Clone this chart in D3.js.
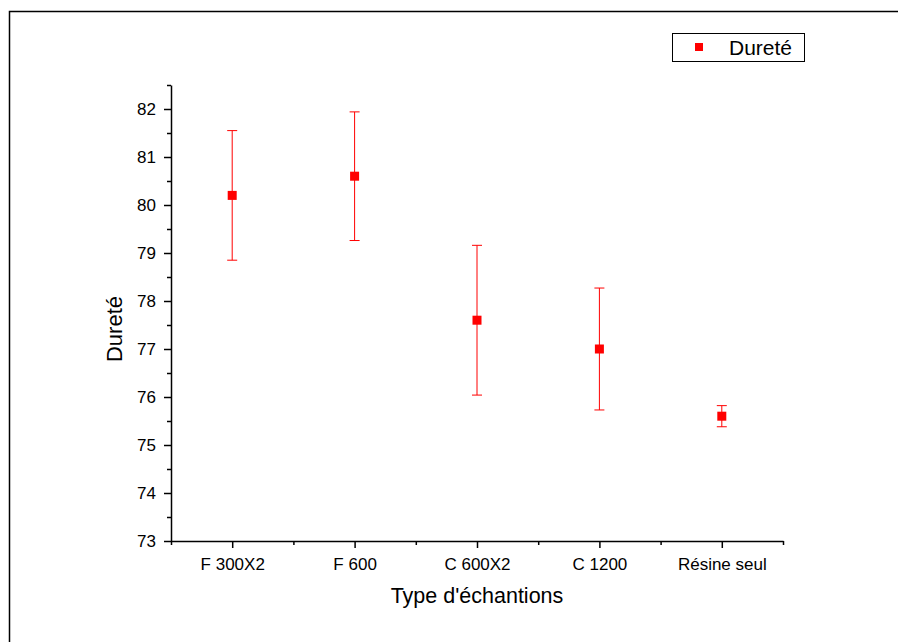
<!DOCTYPE html>
<html>
<head>
<meta charset="utf-8">
<script src="https://cdn.jsdelivr.net/npm/d3@7"></script>
<style>
  body { margin: 0; background: #fff; }
  text { font-family: "Liberation Sans", Arial, sans-serif; }
</style>
</head>
<body>
<div id="chart"></div>
<script>
// sample types and hardness values (mean +/- error)
var categories = ["F 300X2", "F 600", "C 600X2", "C 1200", "Résine seul"];
var durete = [80.2, 80.6, 77.6, 77.0, 75.6];
var erreurs = [1.35, 1.34, 1.56, 1.27, 0.22];
var yTicks = [73, 74, 75, 76, 77, 78, 79, 80, 81, 82];

var width = 898, height = 642;
var margin = {left: 171, right: 115, top: 85, bottom: 101};

var svg = d3.select("#chart").append("svg")
    .attr("width", width)
    .attr("height", height);

// outer frame (cut at right and bottom like the original)
svg.append("rect")
    .attr("x", 9.5).attr("y", 11.5)
    .attr("width", 1000).attr("height", 1000)
    .attr("fill", "none")
    .attr("stroke", "#000")
    .attr("stroke-width", 1.5);

var x = d3.scaleLinear()
    .domain([0.5, categories.length + 0.5])
    .range([margin.left, width - margin.right]);

var y = d3.scaleLinear()
    .domain([73, 82.5])
    .range([height - margin.bottom, margin.top]);

// x axis: major ticks on categories, minor ticks between
var xMinor = d3.range(0.5, categories.length + 1, 1);
svg.append("g")
    .attr("transform", "translate(0," + y(73) + ")")
    .call(d3.axisBottom(x).tickValues(xMinor).tickSize(4).tickFormat(""))
    .call(g => g.select(".domain").remove());
var xAxis = svg.append("g")
    .attr("transform", "translate(0," + y(73) + ")")
    .call(d3.axisBottom(x)
        .tickValues(d3.range(1, categories.length + 1))
        .tickSize(7).tickSizeOuter(0)
        .tickFormat(function(d) { return categories[d - 1]; }));
xAxis.selectAll("text").attr("font-size", 17).attr("y", 29).attr("dy", 0)
    .attr("fill", "#000");

// y axis: major + minor ticks
var yMinor = d3.range(73.5, 82.6, 1);
svg.append("g")
    .attr("transform", "translate(" + x(0.5) + ",0)")
    .call(d3.axisLeft(y).tickValues(yMinor).tickSize(4).tickFormat(""))
    .call(g => g.select(".domain").remove());
var yAxis = svg.append("g")
    .attr("transform", "translate(" + x(0.5) + ",0)")
    .call(d3.axisLeft(y).tickValues(yTicks).tickSize(7).tickSizeOuter(0)
        .tickFormat(d3.format("d")));
yAxis.selectAll("text").attr("font-size", 17).attr("x", -15)
    .attr("fill", "#000");

svg.selectAll(".domain").attr("stroke-width", 1.5);
svg.selectAll(".tick line").attr("stroke-width", 1.5);

// axis titles
svg.append("text")
    .attr("x", x(3)).attr("y", 603)
    .attr("text-anchor", "middle")
    .attr("font-size", 21.5)
    .text("Type d'échantions");

svg.append("text")
    .attr("transform", "translate(122,329) rotate(-90)")
    .attr("text-anchor", "middle")
    .attr("font-size", 22)
    .text("Dureté");

// error bars
var pts = svg.append("g").selectAll("g")
    .data(durete)
    .enter().append("g");

pts.append("line")
    .attr("x1", (d, i) => x(i + 1)).attr("x2", (d, i) => x(i + 1))
    .attr("y1", (d, i) => y(d + erreurs[i]))
    .attr("y2", (d, i) => y(d - erreurs[i]))
    .attr("stroke", "#ff0000").attr("stroke-width", 1);

pts.append("line")
    .attr("x1", (d, i) => x(i + 1) - 5).attr("x2", (d, i) => x(i + 1) + 5)
    .attr("y1", (d, i) => y(d + erreurs[i]))
    .attr("y2", (d, i) => y(d + erreurs[i]))
    .attr("stroke", "#ff0000").attr("stroke-width", 1);

pts.append("line")
    .attr("x1", (d, i) => x(i + 1) - 5).attr("x2", (d, i) => x(i + 1) + 5)
    .attr("y1", (d, i) => y(d - erreurs[i]))
    .attr("y2", (d, i) => y(d - erreurs[i]))
    .attr("stroke", "#ff0000").attr("stroke-width", 1);

pts.append("rect")
    .attr("x", (d, i) => x(i + 1) - 4.5)
    .attr("y", d => y(d) - 4.5)
    .attr("width", 9).attr("height", 9)
    .attr("fill", "#ff0000");

// legend
var legend = svg.append("g");
legend.append("rect")
    .attr("x", 672.5).attr("y", 33.5)
    .attr("width", 132).attr("height", 28)
    .attr("fill", "#fff").attr("stroke", "#000").attr("stroke-width", 1);
legend.append("rect")
    .attr("x", 695).attr("y", 43)
    .attr("width", 8).attr("height", 8)
    .attr("fill", "#ff0000");
legend.append("text")
    .attr("x", 729).attr("y", 55)
    .attr("font-size", 21)
    .text("Dureté");
</script>
</body>
</html>
